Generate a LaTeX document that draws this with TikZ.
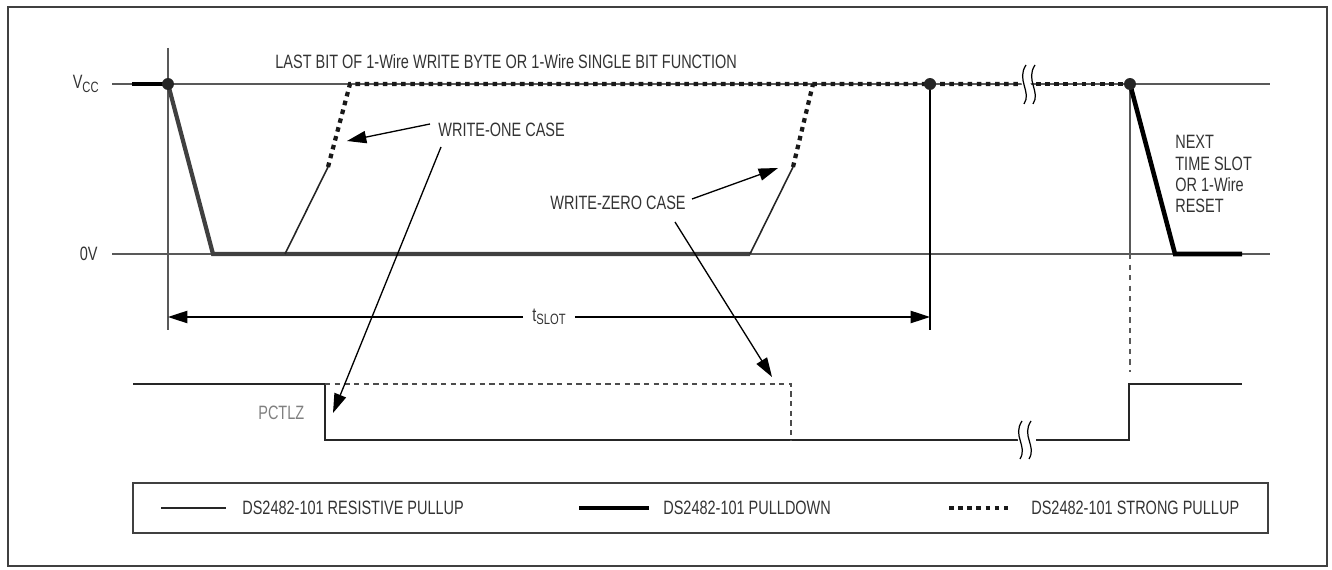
\documentclass[tikz,border=0pt]{standalone}
\usepackage{fontspec}
\setmainfont{Liberation Sans}[FakeStretch=0.75]
\usetikzlibrary{arrows.meta}

\begin{document}
\begin{tikzpicture}[x=0.02cm, y=-0.02cm,
  font=\fontsize{11}{12.2}\selectfont, text=black!80,
  lbl/.style={inner sep=0pt},
  axis/.style={black!65, line width=0.6pt},
  pullup/.style={black!85, line width=0.9pt},
  pulldown/.style={black!75, line width=2.4pt, line join=miter},
  strong/.style={black!90, line width=2.4pt, dash pattern=on 2.6pt off 2.6pt},
  callout/.style={black, line width=0.75pt, -{Triangle[length=11pt,width=7pt]}},
  dot/.style={circle, fill=black!85, inner sep=0pt, minimum size=6.8pt}]
\useasboundingbox (0,0) rectangle (1332,570);
\draw[black!75, line width=1.2pt] (8,7) rectangle (1327,566);

% Levels and time marks
\draw[axis] (112,84) -- (1270,84);
\draw[axis] (112,254) -- (1270,254);
\draw[axis] (168,48) -- (168,330);
\draw[black, line width=0.6pt] (930,84) -- (930,330);
\draw[axis] (1130,84) -- (1130,254);
\draw[axis, dashed] (1130,254) -- (1130,372);

\node[lbl, anchor=east] (vcc) at (99,84) {V\raisebox{-0.35ex}{\fontsize{8.5}{9}\selectfont CC}};
\node[lbl, anchor=east] (zero) at (98,254) {0V};

% Waveform points
\coordinate (s0) at (132,84);
\coordinate (s1) at (168,84);
\coordinate (s2) at (213,254);
\coordinate (s3) at (750,254);
\coordinate (r1) at (285,254);
\coordinate (r2) at (328,167);
\coordinate (r3) at (350,84);
\coordinate (z2) at (793,167);
\coordinate (z3) at (813,84);
\coordinate (e1) at (930,84);
\coordinate (b1) at (1020,84);
\coordinate (b2) at (1036,84);
\coordinate (n1) at (1130,84);
\coordinate (n2) at (1175,254);
\coordinate (n3) at (1242,254);

% Pulldown
\draw[black, line width=2.4pt] (s0) -- (s1);
\draw[pulldown] (s1) -- (s2) -- (s3);
\draw[black, line width=2.6pt, line join=miter] (n1) -- (n2) -- (n3);

% Resistive pullup
\draw[pullup] (r1) -- (r2);
\draw[pullup] (s3) -- (z2);

% Strong pullup
\draw[strong] (r2) -- (r3) -- (b1);
\draw[strong] (b2) -- (n1);
\draw[strong] (z2) -- (z3);

% Break marks
\fill[white] (1022,64) .. controls (1014,78) and (1030,92) .. (1022,106)
  -- (1031,106) .. controls (1039,92) and (1023,78) .. (1031,64) -- cycle;
\draw[black, line width=0.7pt] (1026,65) .. controls (1016,80) and (1032,92) .. (1024,104);
\draw[black, line width=0.7pt] (1035,65) .. controls (1025,80) and (1041,92) .. (1033,104);

% Dots
\node[dot] (d1) at (s1) {};
\node[dot] (d2) at (e1) {};
\node[dot] (d3) at (n1) {};

% Texts
\node[lbl, anchor=west] (lastbit) at (275,62) {LAST BIT OF 1-Wire WRITE BYTE OR 1-Wire SINGLE BIT FUNCTION};
\node[lbl, anchor=west] (wone) at (438,130) {WRITE-ONE CASE};
\node[lbl, anchor=west] (wzero) at (550,203) {WRITE-ZERO CASE};
\node[lbl, anchor=north west, align=left] (next) at (1175,135) {NEXT\\TIME SLOT\\OR 1-Wire\\RESET};
\node[lbl, anchor=west, text=black!50] (pctlz) at (258,413) {PCTLZ};

% tSLOT
\coordinate (tl) at (168,317);
\coordinate (tr) at (930,317);
\node[inner xsep=5pt, inner ysep=0pt] (tslot) at (549,317) {t\raisebox{-0.35ex}{\fontsize{8.5}{9}\selectfont SLOT}};
\draw[callout] (tslot.west) -- (tl);
\draw[callout] (tslot.east) -- (tr);

% PCTLZ
\coordinate (p0) at (133,384);
\coordinate (p1) at (325,384);
\coordinate (p2) at (325,440);
\coordinate (p3) at (1020,440);
\coordinate (p4) at (1036,440);
\coordinate (p5) at (1129,440);
\coordinate (p6) at (1129,384);
\coordinate (p7) at (1242,384);
\coordinate (q1) at (791,384);
\coordinate (q2) at (791,440);
\draw[pullup] (p0) -- (p1) -- (p2) -- (p3);
\draw[pullup] (p4) -- (p5) -- (p6) -- (p7);
\draw[black!70, line width=0.6pt, dash pattern=on 3pt off 2.5pt] (p1) -- (q1) -- (q2);
\fill[white] (1018,420) .. controls (1010,434) and (1026,446) .. (1018,460)
  -- (1027,460) .. controls (1035,446) and (1019,434) .. (1027,420) -- cycle;
\draw[black, line width=0.7pt] (1022,421) .. controls (1012,436) and (1028,446) .. (1020,459);
\draw[black, line width=0.7pt] (1031,421) .. controls (1021,436) and (1037,446) .. (1029,459);

% Callouts
\coordinate (oneTail) at (430,124);
\coordinate (oneTip) at (347,141);
\coordinate (oneFrom) at (441,147);
\coordinate (oneTo) at (333,413);
\coordinate (zeroTail) at (692,199);
\coordinate (zeroTip) at (778,168);
\coordinate (zeroFrom) at (675,222);
\coordinate (zeroTo) at (772,377);
\draw[callout] (oneTail) -- (oneTip);
\draw[callout] (oneFrom) -- (oneTo);
\draw[callout] (zeroTail) -- (zeroTip);
\draw[callout] (zeroFrom) -- (zeroTo);

% Legend
\draw[black!75, line width=1pt] (133,483) rectangle (1268,533);
\draw[pullup] (161,508) -- (226,508);
\node[lbl, anchor=west] (leg1) at (242,508) {DS2482-101 RESISTIVE PULLUP};
\draw[black, line width=2.6pt] (579,508) -- (649,508);
\node[lbl, anchor=west] (leg2) at (663,508) {DS2482-101 PULLDOWN};
\draw[strong] (949,508) -- (1008,508);
\node[lbl, anchor=west] (leg3) at (1031,508) {DS2482-101 STRONG PULLUP};
\end{tikzpicture}
\end{document}
